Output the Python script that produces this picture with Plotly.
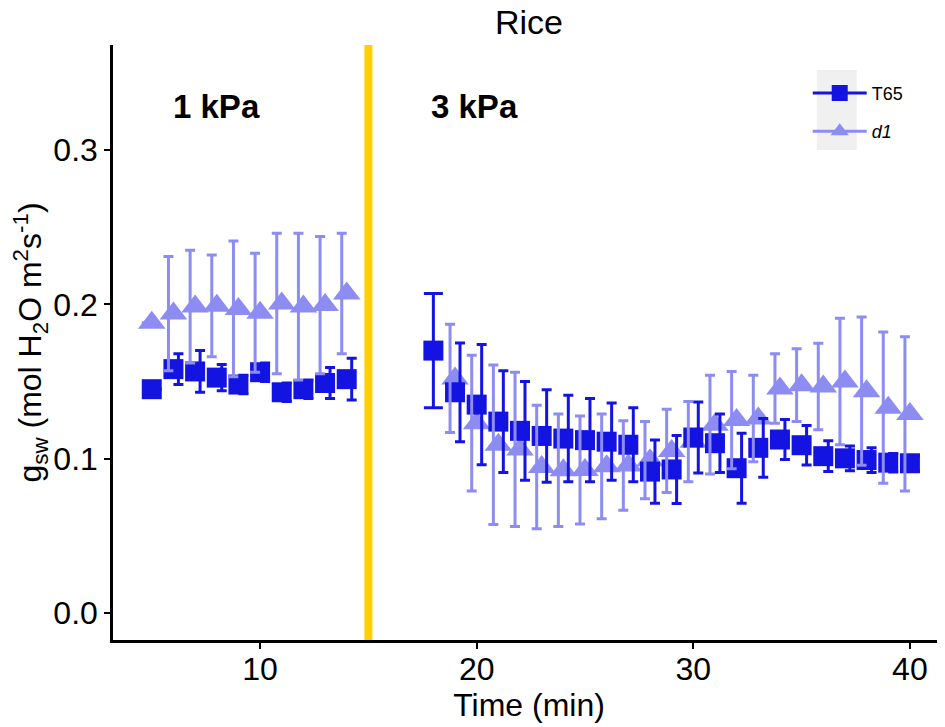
import plotly.graph_objects as go

# time points (min)
time_min = [5, 6, 7, 8, 9, 10, 11, 12, 13, 14,
            18, 19, 20, 21, 22, 23, 24, 25, 26, 27, 28, 29,
            30, 31, 32, 33, 34, 35, 36, 37, 38, 39, 40]

# gsw means and standard errors
t65_mean = [0.145, 0.158, 0.1565, 0.1525, 0.148, 0.156, 0.143, 0.145, 0.149, 0.1515,
            0.170, 0.143, 0.135, 0.124, 0.118, 0.1147, 0.113, 0.112, 0.111, 0.109, 0.0916, 0.093,
            0.1137, 0.110, 0.0938, 0.107, 0.1124, 0.1087, 0.1016, 0.1002, 0.0991, 0.0974, 0.097]
t65_se = [0, 0.010, 0.0135, 0.0085, 0.006, 0.006, 0.006, 0.006, 0.010, 0.0135,
          0.037, 0.032, 0.039, 0.033, 0.032, 0.030, 0.028, 0.027, 0.025, 0.024, 0.0205, 0.022,
          0.023, 0.019, 0.0227, 0.019, 0.013, 0.0128, 0.010, 0.008, 0.008, 0.006, 0.005]

d1_mean = [0.188, 0.194, 0.1985, 0.199, 0.197, 0.1945, 0.2005, 0.1985, 0.1995, 0.207,
           None, 0.152, 0.123, 0.109, 0.106, 0.0946, 0.0925, 0.0926, 0.095, 0.0956, 0.099, 0.105,
           0.111, 0.122, 0.125, 0.126, 0.1455, 0.1476, 0.1467, 0.150, 0.1437, 0.133, 0.129]
d1_se = [0, 0.037, 0.0365, 0.033, 0.044, 0.0385, 0.0455, 0.0475, 0.0445, 0.039,
         None, 0.035, 0.044, 0.0516, 0.050, 0.040, 0.0365, 0.035, 0.034, 0.029, 0.025, 0.027,
         0.026, 0.032, 0.0315, 0.028, 0.0225, 0.0236, 0.028, 0.041, 0.048, 0.049, 0.050]

vpd_switch = 15  # min
labels = [(8, 0.328, "1 kPa"), (19.9, 0.328, "3 kPa")]

DARK = "#1414E2"
LIGHT = "#8C8CF2"
DODGE = 0.23
FONT = "Liberation Sans, Arial, sans-serif"

# error bars are dodged where both lines have a value, points are not
def dodged(xs, own, other, shift):
    return [x + shift if (o is not None and v is not None) else x
            for x, v, o in zip(xs, own, other)]

d1_ex = dodged(time_min, d1_mean, t65_mean, -DODGE)
t65_ex = dodged(time_min, t65_mean, d1_mean, DODGE)
t65_solo = [i for i, v in enumerate(d1_mean) if v is None]
t65_pair = [i for i in range(len(time_min)) if i not in t65_solo]

fig = go.Figure()

fig.add_trace(go.Scatter(x=time_min, y=d1_mean, mode="markers", showlegend=False,
                         marker=dict(symbol="triangle-up", size=24, color=LIGHT)))
fig.add_trace(go.Scatter(x=time_min, y=t65_mean, mode="markers", showlegend=False,
                         marker=dict(symbol="square", size=20, color=DARK)))

fig.add_trace(go.Scatter(x=d1_ex, y=d1_mean, mode="markers", showlegend=False,
                         marker=dict(size=1, opacity=0),
                         error_y=dict(type="data", array=d1_se, color=LIGHT,
                                      thickness=3, width=5)))
fig.add_trace(go.Scatter(x=[t65_ex[i] for i in t65_pair], y=[t65_mean[i] for i in t65_pair],
                         mode="markers", showlegend=False, marker=dict(size=1, opacity=0),
                         error_y=dict(type="data", array=[t65_se[i] for i in t65_pair],
                                      color=DARK, thickness=3, width=5)))
fig.add_trace(go.Scatter(x=[time_min[i] for i in t65_solo], y=[t65_mean[i] for i in t65_solo],
                         mode="markers", showlegend=False, marker=dict(size=1, opacity=0),
                         error_y=dict(type="data", array=[t65_se[i] for i in t65_solo],
                                      color=DARK, thickness=3, width=9.5)))

# legend-only entries so the key shows the bar through the symbol
fig.add_trace(go.Scatter(x=[None], y=[None], mode="lines+markers", name="T65",
                         legendgroup="a", line=dict(color=DARK, width=3),
                         marker=dict(symbol="square", size=20, color=DARK)))
fig.add_trace(go.Scatter(x=[None], y=[None], mode="lines+markers", name="<i>d1</i>",
                         legendgroup="b", line=dict(color=LIGHT, width=3),
                         marker=dict(symbol="triangle-up", size=22, color=LIGHT)))

fig.add_vline(x=vpd_switch, line=dict(color="#FFD000", width=8))

for lx, ly, txt in labels:
    fig.add_annotation(x=lx, y=ly, text="<b>%s</b>" % txt, showarrow=False,
                       font=dict(size=33, color="black", family=FONT))

# grey key background like ggplot's legend keys
fig.add_shape(type="rect", xref="paper", yref="paper", x0=0.846, x1=0.894,
              y0=0.8235, y1=0.958, fillcolor="#F0F0F0", line=dict(width=0), layer="below")

axis_common = dict(showgrid=False, zeroline=False, showline=True, linecolor="black",
                   linewidth=2.5, ticks="outside", ticklen=6, tickwidth=1.5,
                   tickcolor="black", tickfont=dict(size=32, color="black", family=FONT))

fig.update_xaxes(range=[3.21, 41.62], tickvals=[10, 20, 30, 40], ticklabelstandoff=-7,
                 title=dict(text="Time (min)", standoff=2,
                            font=dict(size=32, color="black", family=FONT)),
                 **axis_common)
fig.update_yaxes(range=[-0.0175, 0.368], tickvals=[0, 0.1, 0.2, 0.3], tickformat=".1f",
                 title=dict(text="g<sub>sw</sub> (mol H<sub>2</sub>O m<sup>2</sup>s<sup>-1</sup>)",
                            standoff=6, font=dict(size=32, color="black", family=FONT)),
                 **axis_common)

# page has an 8px body margin, so the figure is drawn 8px in from the top-left
fig.update_layout(
    width=937, height=719,
    margin=dict(l=105, r=0, t=37, b=87),
    plot_bgcolor="white", paper_bgcolor="white",
    title=dict(text="Rice", x=0.5, xref="paper", y=1, yref="container",
               yanchor="top", pad=dict(t=2, b=0),
               font=dict(size=34, color="black", family=FONT)),
    legend=dict(x=0.835, y=0.95, xanchor="left", yanchor="top", itemwidth=54,
                bgcolor="rgba(0,0,0,0)", tracegroupgap=12,
                font=dict(size=18, color="black", family=FONT)),
    font=dict(family=FONT),
)

fig.write_html("out.html")
